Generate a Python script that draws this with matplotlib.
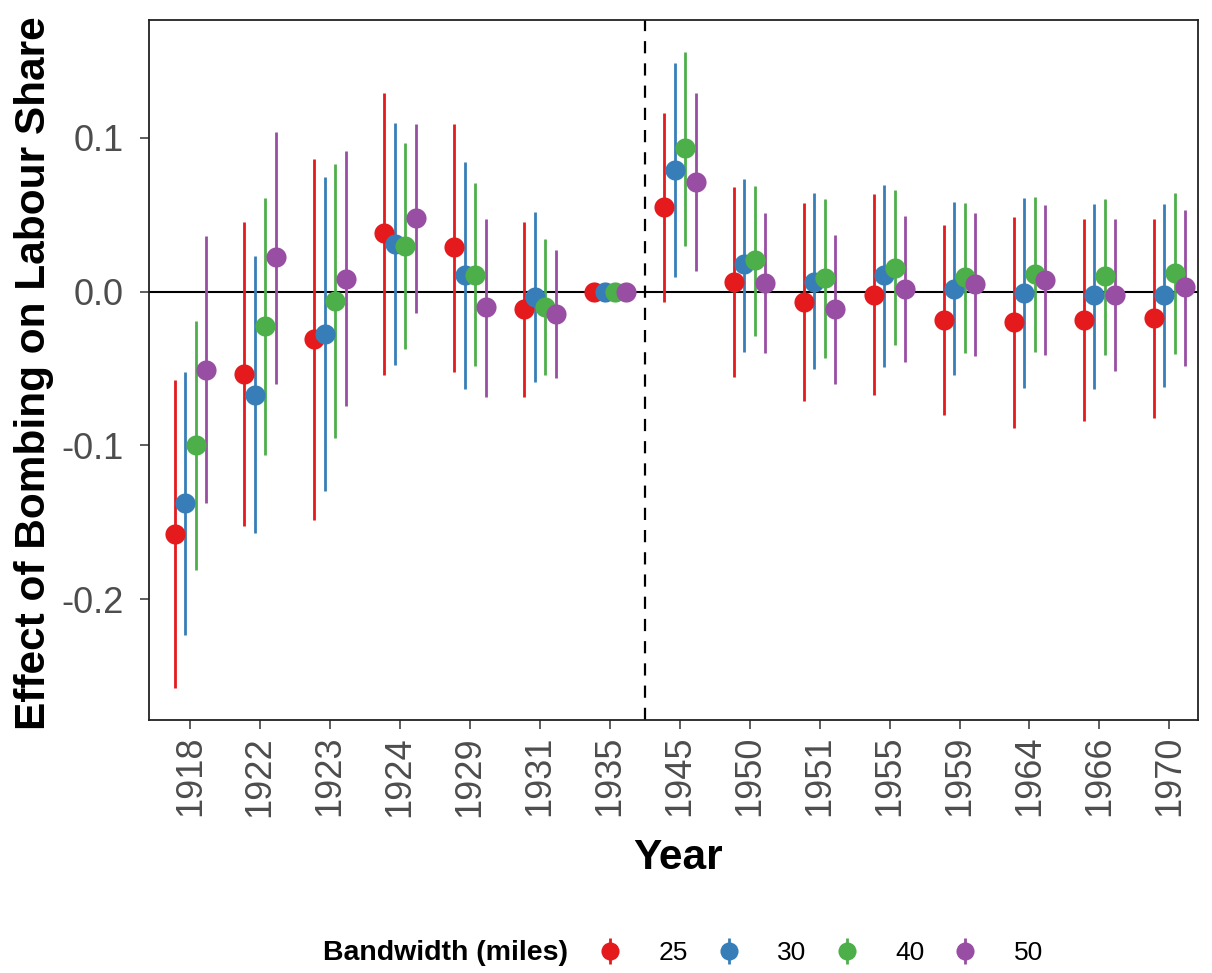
import numpy as np
import matplotlib
matplotlib.use('Agg')
import matplotlib.pyplot as plt

"""Event-study style plot: effect of bombing on labour share by year and bandwidth"""

plt.rcParams['font.family'] = ['Liberation Sans', 'DejaVu Sans']

years = ['1918', '1922', '1923', '1924', '1929', '1931', '1935', '1945',
         '1950', '1951', '1955', '1959', '1964', '1966', '1970']
bandwidths = ['25', '30', '40', '50']
colours = ['#E41A1C', '#377EB8', '#4DAF4A', '#984EA3']

# point estimates and 95% bounds, one list per bandwidth
est_25 = [-0.1575, -0.0536, -0.0308, 0.0380, 0.0287, -0.0114, 0.0, 0.0551,
          0.0062, -0.0068, -0.0021, -0.0185, -0.0198, -0.0185, -0.0172]
lo_25 = [-0.258, -0.1523, -0.1486, -0.0540, -0.0523, -0.0687, 0.0, -0.0068,
         -0.0557, -0.0709, -0.0674, -0.0800, -0.0886, -0.0839, -0.0821]
hi_25 = [-0.0577, 0.0453, 0.0862, 0.1295, 0.1092, 0.0453, 0.0, 0.1161,
         0.0683, 0.0579, 0.0635, 0.0434, 0.0488, 0.0471, 0.0471]

est_30 = [-0.1375, -0.0670, -0.0274, 0.0308, 0.0107, -0.0038, 0.0, 0.0791,
          0.0179, 0.0064, 0.0105, 0.0020, -0.0012, -0.0023, -0.0021]
lo_30 = [-0.2235, -0.1570, -0.1295, -0.0479, -0.0633, -0.0590, 0.0, 0.0092,
         -0.0395, -0.0505, -0.0490, -0.0542, -0.0629, -0.0633, -0.0618]
hi_30 = [-0.0523, 0.0231, 0.0745, 0.1099, 0.0845, 0.0520, 0.0, 0.1490,
         0.0735, 0.0640, 0.0692, 0.0586, 0.0607, 0.0573, 0.0573]

est_40 = [-0.0999, -0.0226, -0.0060, 0.0297, 0.0109, -0.0099, 0.0, 0.0936,
          0.0203, 0.0090, 0.0153, 0.0092, 0.0114, 0.0101, 0.0118]
lo_40 = [-0.1810, -0.1066, -0.0953, -0.0375, -0.0486, -0.0540, 0.0, 0.0297,
         -0.0287, -0.0430, -0.0349, -0.0399, -0.0395, -0.0410, -0.0408]
hi_40 = [-0.0194, 0.0612, 0.0830, 0.0969, 0.0705, 0.0339, 0.0, 0.1560,
         0.0687, 0.0603, 0.0661, 0.0577, 0.0618, 0.0603, 0.0640]

est_50 = [-0.0508, 0.0222, 0.0083, 0.0477, -0.0103, -0.0144, 0.0, 0.0713,
          0.0055, -0.0114, 0.0020, 0.0051, 0.0075, -0.0021, 0.0031]
lo_50 = [-0.1375, -0.0600, -0.0745, -0.0138, -0.0687, -0.0560, 0.0, 0.0131,
         -0.0401, -0.0603, -0.0460, -0.0417, -0.0414, -0.0514, -0.0482]
hi_50 = [0.0365, 0.1038, 0.0912, 0.1092, 0.0475, 0.0268, 0.0, 0.1289,
         0.0510, 0.0369, 0.0495, 0.0510, 0.0562, 0.0471, 0.0534]

estimates = [est_25, est_30, est_40, est_50]
lowers = [lo_25, lo_30, lo_40, lo_50]
uppers = [hi_25, hi_30, hi_40, hi_50]

fig = plt.figure(figsize=(12.12, 9.73), dpi=100)
ax = fig.add_axes([149/1212, 1-720/973, (1198-149)/1212, (720-20)/973])

x = np.arange(len(years))
dodge = 0.6
offsets = (np.arange(4) - 1.5) * dodge / 4

ax.axhline(0, color='black', lw=1.5, zorder=1)
ax.axvline(6.5, color='black', lw=1.6, ls=(0, (5.5, 4.5)), zorder=1)

handles = []
for est, lo, hi, col, off in zip(estimates, lowers, uppers, colours, offsets):
    est = np.array(est)
    yerr = [est - np.array(lo), np.array(hi) - est]
    h = ax.errorbar(x + off, est, yerr=yerr, fmt='o', color=col, ecolor=col,
                    elinewidth=2.0, capsize=0, markersize=14.5,
                    markeredgewidth=0, zorder=3)
    handles.append(h)

# ggplot-like expansion on y
ymin = min(min(l) for l in lowers)
ymax = max(max(u) for u in uppers)
rng = ymax - ymin
ax.set_ylim(ymin - 0.05*rng, ymax + 0.05*rng)
ax.set_xlim(-0.59, 14.41)

ax.set_xticks(x)
ax.set_xticklabels(years, rotation=90)
ax.set_yticks([-0.2, -0.1, 0.0, 0.1])
ax.set_yticklabels(['-0.2', '-0.1', '0.0', '0.1'])
ax.tick_params(axis='both', labelsize=26, labelcolor='#4D4D4D',
               color='#333333', length=6.5, width=1.1)
ax.tick_params(axis='x', pad=5)
ax.tick_params(axis='y', pad=12)

for sp in ax.spines.values():
    sp.set_color('#222222')
    sp.set_linewidth(1.3)

ax.set_xlabel('Year', fontsize=30.5, fontweight='bold', va='center')
ax.xaxis.set_label_coords((678-149)/1049, -(858-720)/700)
ax.set_ylabel('Effect of Bombing on Labour Share', fontsize=30.5,
              fontweight='bold', va='center')
ax.yaxis.set_label_coords(-(149-34)/1049, (720-373)/700)

fig.text(323/1212, 1-953/973, 'Bandwidth (miles)', fontsize=20.5,
         fontweight='bold', ha='left', va='center')
fig.legend(handles, bandwidths, loc='center left',
           bbox_to_anchor=(597/1212, 1-953/973), ncol=4, frameon=False,
           fontsize=19, handlelength=1.0, handletextpad=1.35,
           columnspacing=1.02, borderpad=0, borderaxespad=0, markerscale=0.9)

fig.savefig('out.png', dpi=100)
